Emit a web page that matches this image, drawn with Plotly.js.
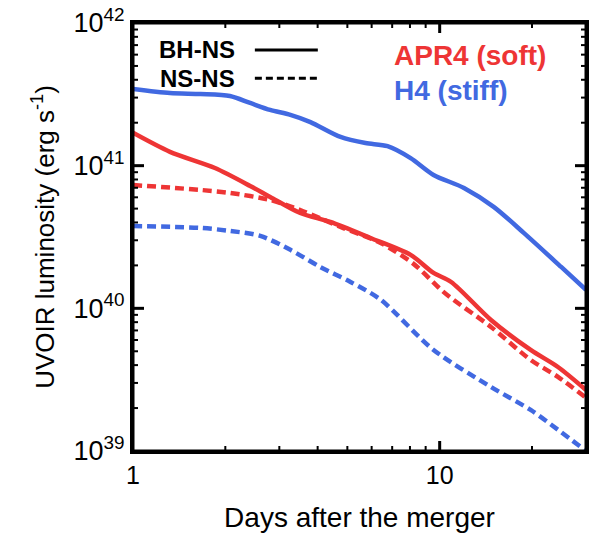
<!DOCTYPE html>
<html>
<head>
<meta charset="utf-8">
<script src="https://cdn.plot.ly/plotly-3.0.1.min.js"></script>
<style>html,body{margin:0;padding:0;background:#fff;}#chart{width:592px;height:539px;}</style>
</head>
<body>
<div id="chart"></div>
<script>
// Days after the merger / luminosity (erg s^-1)
const h4BhnsDays = [1.00, 1.32, 1.66, 2.07, 2.41, 2.80, 3.26, 3.79, 4.75, 5.73, 6.76, 8.04, 9.55, 12.0, 15.0, 18.8, 24.9, 30.0];
const h4BhnsLum  = [3.45e41, 3.23e41, 3.18e41, 3.08e41, 2.75e41, 2.46e41, 2.27e41, 2.02e41, 1.59e41, 1.44e41, 1.37e41, 1.13e41, 8.61e40, 6.98e40, 5.14e40, 3.38e40, 1.95e40, 1.35e40];

const apr4BhnsDays = [1.00, 1.32, 1.85, 2.41, 2.80, 3.51, 4.40, 5.95, 8.04, 9.55, 10.9, 14.7, 19.8, 24.3, 30.0];
const apr4BhnsLum  = [1.70e41, 1.25e41, 9.63e40, 7.21e40, 6.04e40, 4.66e40, 4.03e40, 3.11e40, 2.37e40, 1.77e40, 1.53e40, 8.29e39, 5.11e39, 3.88e39, 2.68e39];

const apr4NsnsDays = [1.00, 1.66, 2.07, 2.80, 3.51, 4.75, 6.42, 8.22, 10.1, 10.9, 14.7, 19.8, 24.3, 30.0];
const apr4NsnsLum  = [7.32e40, 6.76e40, 6.44e40, 5.75e40, 4.89e40, 3.72e40, 2.87e40, 2.05e40, 1.35e40, 1.18e40, 7.41e39, 4.35e39, 3.31e39, 2.36e39];

const h4NsnsDays = [1.00, 1.66, 2.07, 2.60, 3.26, 4.08, 5.12, 6.42, 9.55, 14.7, 19.8, 24.3, 30.0];
const h4NsnsLum  = [3.78e40, 3.66e40, 3.49e40, 3.22e40, 2.57e40, 1.95e40, 1.53e40, 1.15e40, 5.11e39, 2.81e39, 1.94e39, 1.41e39, 1.00e39];

const yTickVals = [1e39, 1e40, 1e41, 1e42];
const yTickText = ['10<sup>39</sup>', '10<sup>40</sup>', '10<sup>41</sup>', '10<sup>42</sup>'];
const xTickVals = [1, 10];
const xTickText = ['1', '10'];

const X_RANGE = [1, 30];
const Y_RANGE = [1e39, 1e42];

const RED = '#ee3535';
const BLUE = '#4169e1';

function line(x, y, color, dash) {
  return {x: x, y: y, type: 'scatter', mode: 'lines',
          line: {color: color, width: 4.5, dash: dash, shape: 'spline', smoothing: 0.8},
          showlegend: false, hoverinfo: 'skip'};
}

const data = [
  line(h4BhnsDays, h4BhnsLum, BLUE, 'solid'),
  line(apr4BhnsDays, apr4BhnsLum, RED, 'solid'),
  line(apr4NsnsDays, apr4NsnsLum, RED, '9px,5px'),
  line(h4NsnsDays, h4NsnsLum, BLUE, '9px,5px')
];

const font = 'Liberation Sans, Arial, Helvetica, sans-serif';

// plot-area size in pixels (for tick lengths)
const PW = 592 - 133 - 6, PH = 539 - 23 - 88;
const lx0 = Math.log10(X_RANGE[0]), lx1 = Math.log10(X_RANGE[1]);
const ly0 = Math.log10(Y_RANGE[0]), ly1 = Math.log10(Y_RANGE[1]);
const xFrac = v => (Math.log10(v) - lx0) / (lx1 - lx0);
const yFrac = v => (Math.log10(v) - ly0) / (ly1 - ly0);

// frame ticks (decoration), positions derived from the axis ranges
const tickShapes = [];
function addXTick(v, len, w) {
  const p = xFrac(v);
  if (p <= 0.001 || p >= 0.999) return;
  tickShapes.push({type: 'line', xref: 'paper', yref: 'paper', x0: p, x1: p, y0: 0, y1: len / PH, line: {color: 'black', width: w}, layer: 'above'});
  tickShapes.push({type: 'line', xref: 'paper', yref: 'paper', x0: p, x1: p, y0: 1, y1: 1 - len / PH, line: {color: 'black', width: w}, layer: 'above'});
}
function addYTick(v, len, w) {
  const p = yFrac(v);
  if (p <= 0.001 || p >= 0.999) return;
  tickShapes.push({type: 'line', xref: 'paper', yref: 'paper', y0: p, y1: p, x0: 0, x1: len / PW, line: {color: 'black', width: w}, layer: 'above'});
  tickShapes.push({type: 'line', xref: 'paper', yref: 'paper', y0: p, y1: p, x0: 1, x1: 1 - len / PW, line: {color: 'black', width: w}, layer: 'above'});
}
[1, 10].forEach(d => {
  for (let k = 1; k <= 9; k++) {
    const v = k * d;
    if (v > X_RANGE[1]) continue;
    addXTick(v, k === 1 ? 10 : 5, k === 1 ? 3 : 2);
  }
});
[1e39, 1e40, 1e41, 1e42].forEach(d => {
  for (let k = 1; k <= 9; k++) {
    const v = k * d;
    if (v > Y_RANGE[1]) continue;
    addYTick(v, k === 1 ? 11 : 5, k === 1 ? 3 : 2);
  }
});

const layout = {
  width: 592, height: 539,
  margin: {l: 133, r: 6, t: 23, b: 88},
  font: {family: font, color: 'black'},
  xaxis: {
    type: 'log', range: [lx0, lx1],
    tickmode: 'array', tickvals: xTickVals, ticktext: xTickText,
    ticks: '', showline: true, linewidth: 3, linecolor: 'black', mirror: true,
    showgrid: false, zeroline: false,
    tickfont: {size: 25, family: font},
    title: {text: 'Days after the merger', font: {size: 28, family: font}, standoff: 20}
  },
  yaxis: {
    type: 'log', range: [ly0, ly1],
    tickmode: 'array', tickvals: yTickVals, ticktext: yTickText,
    ticks: '', showline: true, linewidth: 3, linecolor: 'black', mirror: true,
    showgrid: false, zeroline: false,
    tickfont: {size: 27, family: font},
    title: {text: 'UVOIR luminosity (erg s<sup>-1</sup>)', font: {size: 26, family: font}, standoff: 12}
  },
  annotations: [
    {xref: 'paper', yref: 'paper', x: 0.229, y: 0.937, xanchor: 'right', yanchor: 'middle',
     text: '<b>BH-NS</b>', showarrow: false, font: {size: 24, family: font, color: 'black'}},
    {xref: 'paper', yref: 'paper', x: 0.229, y: 0.871, xanchor: 'right', yanchor: 'middle',
     text: '<b>NS-NS</b>', showarrow: false, font: {size: 24, family: font, color: 'black'}},
    {xref: 'paper', yref: 'paper', x: 0.572, y: 0.925, xanchor: 'left', yanchor: 'middle',
     text: '<b>APR4 (soft)</b>', showarrow: false, font: {size: 28, family: font, color: RED}},
    {xref: 'paper', yref: 'paper', x: 0.572, y: 0.843, xanchor: 'left', yanchor: 'middle',
     text: '<b>H4 (stiff)</b>', showarrow: false, font: {size: 28, family: font, color: BLUE}}
  ],
  shapes: tickShapes.concat([
    {type: 'rect', xref: 'paper', yref: 'paper', x0: 0, x1: 1, y0: 0, y1: 1,
     line: {color: 'black', width: 3}, fillcolor: 'rgba(0,0,0,0)', layer: 'above'},
    {type: 'line', xref: 'paper', yref: 'paper', x0: 0.269, x1: 0.408, y0: 0.937, y1: 0.937,
     line: {color: 'black', width: 3}},
    {type: 'line', xref: 'paper', yref: 'paper', x0: 0.269, x1: 0.408, y0: 0.871, y1: 0.871,
     line: {color: 'black', width: 3, dash: '7px,4px'}}
  ])
};

Plotly.newPlot('chart', data, layout, {displayModeBar: false});
</script>
</body>
</html>
